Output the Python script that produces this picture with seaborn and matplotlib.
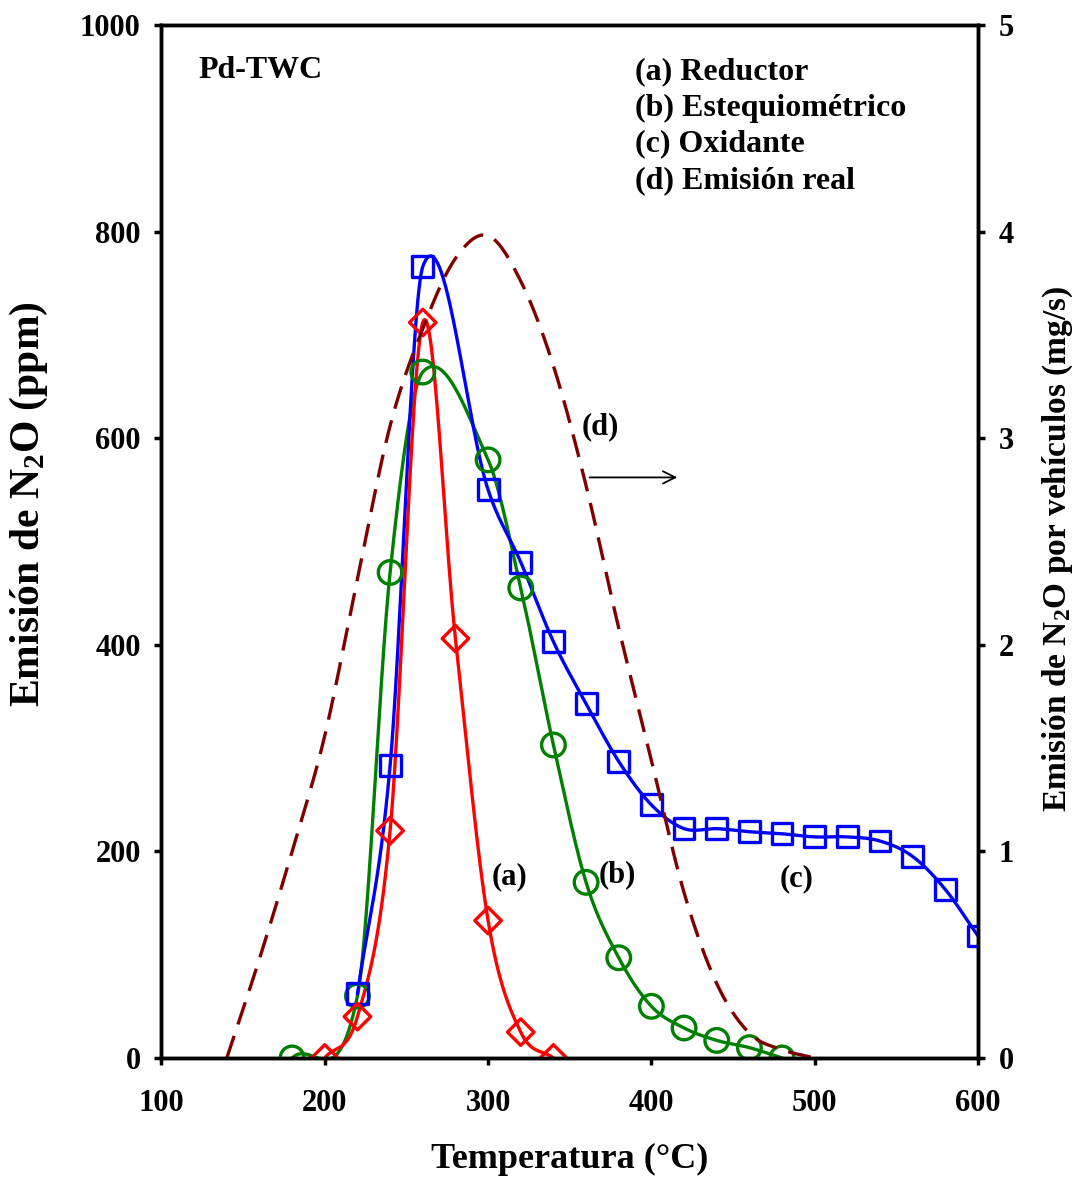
import numpy as np
import pandas as pd
import matplotlib
matplotlib.use("Agg")
import matplotlib.pyplot as plt
import seaborn as sns

# --- data -------------------------------------------------------------
# (a) Reductor
temp_a = [200, 220, 240, 260, 280, 300, 320, 340]
ppm_a = [0, 40, 220, 712, 406, 133, 25, 0]
# (b) Estequiométrico
temp_b = [180, 220, 240, 260, 300, 320, 340, 360, 380, 400, 420, 440, 460, 480]
ppm_b = [0, 60, 470, 664, 579, 455, 303, 170, 97, 50, 29, 17, 10, 0]
# (c) Oxidante
temp_c = [220, 240, 260, 300, 320, 340, 360, 380, 400, 420, 440, 460, 480, 500,
          520, 540, 560, 580, 600]
ppm_c = [62, 283, 766, 550, 480, 403, 343, 287, 245, 222, 222, 219, 217, 214,
         214, 210, 195, 163, 118]
# (d) Emisión real (mg/s, right axis)
temp_d = [140, 160, 180, 200, 220, 240, 260, 280, 300, 320, 340, 360, 380, 400,
          420, 440, 460, 480, 500]
mgs_d = [0, 0.48, 1.0, 1.56, 2.32, 3.06, 3.53, 3.87, 3.98, 3.76, 3.35, 2.77,
         2.08, 1.44, 0.80, 0.36, 0.12, 0.04, 0]

x_ticks = [100, 200, 300, 400, 500, 600]
left_ticks = [0, 200, 400, 600, 800, 1000]
right_ticks = [0, 1, 2, 3, 4, 5]


def smooth(x, y, n=60):
    """Cardinal cubic Hermite curve through the points (smoothed line)."""
    x = np.asarray(x, float)
    y = np.asarray(y, float)
    m = np.empty_like(y)
    m[1:-1] = (y[2:] - y[:-2]) / (x[2:] - x[:-2])
    m[0] = (y[1] - y[0]) / (x[1] - x[0])
    m[-1] = (y[-1] - y[-2]) / (x[-1] - x[-2])
    xs, ys = [], []
    t = np.linspace(0, 1, n, endpoint=False)
    for i in range(len(x) - 1):
        h = x[i + 1] - x[i]
        h00 = 2 * t**3 - 3 * t**2 + 1
        h10 = t**3 - 2 * t**2 + t
        h01 = -2 * t**3 + 3 * t**2
        h11 = t**3 - t**2
        xs.append(x[i] + h * t)
        ys.append(h00 * y[i] + h10 * h * m[i] + h01 * y[i + 1] + h11 * h * m[i + 1])
    xs.append([x[-1]])
    ys.append([y[-1]])
    return pd.DataFrame({"T": np.concatenate(xs), "v": np.concatenate(ys)})


sns.set_theme(style="white")
plt.rcParams["font.family"] = ["Liberation Serif", "DejaVu Serif"]
plt.rcParams["font.weight"] = "bold"
plt.rcParams["mathtext.fontset"] = "custom"
plt.rcParams["mathtext.rm"] = "Liberation Serif:bold"
plt.rcParams["mathtext.it"] = "Liberation Serif:bold"
plt.rcParams["mathtext.bf"] = "Liberation Serif:bold"
plt.rcParams["axes.labelcolor"] = "black"
plt.rcParams["text.color"] = "black"

fig = plt.figure(figsize=(10.8, 11.78), dpi=100)
ax = fig.add_axes([0.1495, 0.1019, 0.7561, 0.8769])
ax2 = ax.twinx()

LW = 2.4
series = [
    (temp_b, ppm_b, "#008000", "o", 17 ** 2),
    (temp_c, ppm_c, "#0000FF", "s", 15 ** 2),
    (temp_a, ppm_a, "#FF0000", "D", 13.5 ** 2),
]
for tx, vy, col, mk, sz in series:
    curve = smooth(tx, vy)
    sns.lineplot(data=curve, x="T", y="v", ax=ax, color=col, linewidth=LW,
                 sort=False, estimator=None)
    sns.scatterplot(x=tx, y=vy, ax=ax, marker=mk, s=sz, facecolor="none",
                    edgecolor=col, linewidth=LW, zorder=3)

curve_d = smooth(temp_d, mgs_d)
sns.lineplot(data=curve_d, x="T", y="v", ax=ax2, color="#800000", linewidth=LW,
             sort=False, estimator=None)
ax2.lines[0].set_dashes((7, 3.6))

# axes
ax.set_xlim(100, 600)
ax.set_ylim(0, 1000)
ax2.set_ylim(0, 5)
ax.set_xticks(x_ticks)
ax.set_yticks(left_ticks)
ax2.set_yticks(right_ticks)
ax.set_xticklabels([str(v) for v in x_ticks])
ax.set_yticklabels([str(v) for v in left_ticks])
ax2.set_yticklabels([str(v) for v in right_ticks])

for a in (ax, ax2):
    for s in a.spines.values():
        s.set_visible(True)
        s.set_linewidth(2.5)
        s.set_color("black")
    a.tick_params(axis="both", direction="out", length=5, width=2.5,
                  labelsize=22, colors="black", pad=6)
ax.tick_params(axis="x", bottom=True, pad=17)
ax.tick_params(axis="y", left=True, pad=10)
ax2.tick_params(axis="y", right=True, pad=10)

ax.set_xlabel("Temperatura (°C)", fontsize=26, fontweight="bold", labelpad=18)
ax.set_ylabel(r"Emisión de N$_2$O (ppm)", fontsize=30, fontweight="bold")
ax2.set_ylabel(r"Emisión de N$_2$O por vehículos (mg/s)", fontsize=24,
               fontweight="bold")
ax.yaxis.set_label_coords(-0.136, 0.536)
ax2.yaxis.set_label_coords(1.077, 0.493)

# text annotations
txt = dict(fontsize=23, fontweight="bold", color="black", va="center")
ax.text(122.4, 956, "Pd-TWC", ha="left", **txt)
for yy, s in zip([954.5, 919.6, 884.8, 849.0],
                 ["(a) Reductor", "(b) Estequiométrico", "(c) Oxidante",
                  "(d) Emisión real"]):
    ax.text(390.2, yy, s, ha="left", **txt)

lab = dict(fontsize=22, fontweight="bold", color="black", va="center",
           ha="center")
ax.text(313.1, 175, "(a)", **lab)
ax.text(379.2, 177, "(b)", **lab)
ax.text(488.7, 174, "(c)", **lab)
ax.text(368.8, 611, "(d)", **lab)
ax.annotate("", xy=(417.5, 562), xytext=(360.5, 562),
            arrowprops=dict(arrowstyle="->", color="black", lw=1.3,
                            mutation_scale=22))

fig.savefig("out.png", dpi=100)
